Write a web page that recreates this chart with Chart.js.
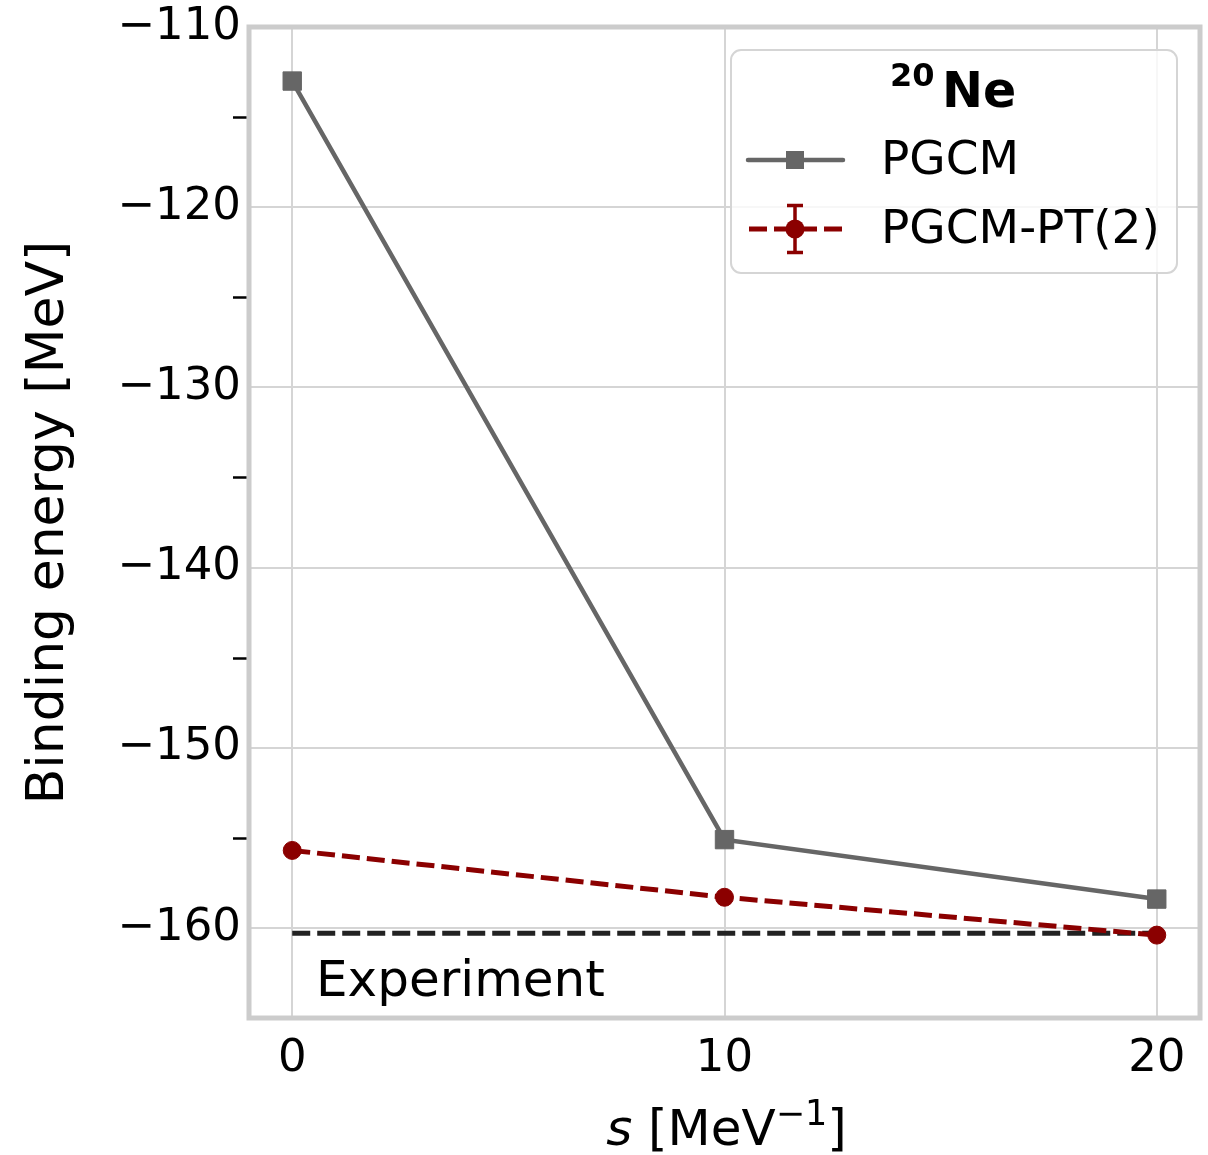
<!DOCTYPE html>
<html>
<head>
<meta charset="utf-8">
<script src="https://cdn.jsdelivr.net/npm/chart.js@4.4.1/dist/chart.umd.min.js"></script>
<style>
  html, body { margin: 0; padding: 0; background: #ffffff; }
  #chart_binding { display: block; }
</style>
</head>
<body>
<canvas id="chart_binding" width="1208" height="1155"></canvas>
<script>
// flow parameter s [MeV^-1]
var sValues = [0, 10, 20];
var pgcmEnergy = [-113.0, -155.1, -158.4];
var pgcmPt2Energy = [-155.7, -158.3, -160.4];
var experimentEnergy = -160.3;
var xTickValues = [0, 10, 20];
var yTickValues = [-160, -150, -140, -130, -120, -110];
var yMinorTicks = [-155, -145, -135, -125, -115];

var FONT = "'DejaVu Sans', sans-serif";
var GRAY = '#666666';
var DARKRED = '#8b0000';
var DASH = [18, 7];

function toPoints(xs, ys) {
    return xs.map(function(x, i) { return { x: x, y: ys[i] }; });
}

var frameAndLegend = {
    id: 'frameAndLegend',
    beforeDatasetsDraw: (chart) => {
        const ctx = chart.ctx;
        const a = chart.chartArea;
        ctx.save();
        ctx.strokeStyle = '#cccccc';
        ctx.lineWidth = 5;
        ctx.strokeRect(a.left, a.top, a.right - a.left, a.bottom - a.top);
        // minor ticks on y
        const y = chart.scales.y;
        ctx.strokeStyle = '#000000';
        ctx.lineWidth = 2.5;
        yMinorTicks.forEach(function(v) {
            const py = Math.round(y.getPixelForValue(v)) + 0.5;
            ctx.beginPath();
            ctx.moveTo(a.left - 16, py);
            ctx.lineTo(a.left - 2.5, py);
            ctx.stroke();
        });
        ctx.restore();
    },
    afterDraw: (chart) => {
        const ctx = chart.ctx;
        const xs = chart.scales.x;
        const ys = chart.scales.y;
        ctx.save();

        // "Experiment" label
        ctx.fillStyle = '#000000';
        ctx.font = '50px ' + FONT;
        ctx.textBaseline = 'alphabetic';
        ctx.textAlign = 'left';
        ctx.fillText('Experiment', xs.getPixelForValue(0.55), ys.getPixelForValue(-163.8));

        // x axis title: s [MeV^-1]
        const parts = [
            { t: 's', f: 'italic 50px ' + FONT, dy: 0 },
            { t: ' [MeV', f: '50px ' + FONT, dy: 0 },
            { t: '\u22121', f: '35px ' + FONT, dy: -20 },
            { t: ']', f: '50px ' + FONT, dy: 0 }
        ];
        let total = 0;
        parts.forEach(function(p) { ctx.font = p.f; p.w = ctx.measureText(p.t).width; total += p.w; });
        let tx = (xs.left + xs.right) / 2 - total / 2 + 2, ty = 1145;
        parts.forEach(function(p) { ctx.font = p.f; ctx.fillText(p.t, tx, ty + p.dy); tx += p.w; });

        // legend box
        const bx = 731, by = 50, bw = 446, bh = 223, r = 10;
        ctx.beginPath();
        ctx.moveTo(bx + r, by);
        ctx.arcTo(bx + bw, by, bx + bw, by + bh, r);
        ctx.arcTo(bx + bw, by + bh, bx, by + bh, r);
        ctx.arcTo(bx, by + bh, bx, by, r);
        ctx.arcTo(bx, by, bx + bw, by, r);
        ctx.closePath();
        ctx.fillStyle = 'rgba(255,255,255,0.8)';
        ctx.fill();
        ctx.strokeStyle = '#d5d5d5';
        ctx.lineWidth = 2;
        ctx.stroke();

        // legend title 20Ne
        ctx.fillStyle = '#000000';
        ctx.font = 'bold 32px ' + FONT;
        ctx.fillText('20', 890, 86);
        ctx.font = 'bold 49px ' + FONT;
        ctx.fillText('Ne', 942, 107);

        // PGCM entry
        ctx.strokeStyle = GRAY;
        ctx.lineWidth = 4.5;
        ctx.lineCap = 'round';
        ctx.beginPath();
        ctx.moveTo(748, 160);
        ctx.lineTo(843, 160);
        ctx.stroke();
        ctx.fillStyle = GRAY;
        ctx.fillRect(786, 151, 18, 18);

        // PGCM-PT(2) entry
        ctx.strokeStyle = DARKRED;
        ctx.lineCap = 'butt';
        ctx.lineWidth = 5;
        ctx.setLineDash(DASH);
        ctx.beginPath();
        ctx.moveTo(749, 229);
        ctx.lineTo(843, 229);
        ctx.stroke();
        ctx.setLineDash([]);
        ctx.lineWidth = 3.5;
        ctx.beginPath();
        ctx.moveTo(795, 205); ctx.lineTo(795, 253);
        ctx.moveTo(787, 205.5); ctx.lineTo(803, 205.5);
        ctx.moveTo(787, 252.5); ctx.lineTo(803, 252.5);
        ctx.stroke();
        ctx.fillStyle = DARKRED;
        ctx.beginPath();
        ctx.arc(795, 229, 9.5, 0, Math.PI * 2);
        ctx.fill();

        ctx.fillStyle = '#000000';
        ctx.font = '47px ' + FONT;
        ctx.textBaseline = 'middle';
        ctx.fillText('PGCM', 881, 162);
        ctx.fillText('PGCM-PT(2)', 881, 231);
        ctx.restore();
    }
};

Chart.defaults.font.family = FONT;
Chart.defaults.color = '#000000';

var chart_binding = new Chart(document.getElementById('chart_binding'), {
    type: 'line',
    data: {
        datasets: [
            {
                label: 'PGCM',
                data: toPoints(sValues, pgcmEnergy),
                borderColor: GRAY,
                backgroundColor: GRAY,
                borderWidth: 4.5,
                pointStyle: 'rect',
                pointRadius: 13,
                pointBorderWidth: 1,
                tension: 0
            },
            {
                label: 'PGCM-PT(2)',
                data: toPoints(sValues, pgcmPt2Energy),
                borderColor: DARKRED,
                backgroundColor: DARKRED,
                borderWidth: 5,
                borderDash: DASH,
                pointStyle: 'circle',
                pointRadius: 9,
                pointBorderWidth: 1,
                tension: 0
            },
            {
                label: 'Experiment',
                data: toPoints([sValues[0], sValues[sValues.length - 1]], [experimentEnergy, experimentEnergy]),
                borderColor: '#222222',
                borderWidth: 5,
                borderDash: DASH,
                pointRadius: 0,
                tension: 0
            }
        ]
    },
    options: {
        animation: false,
        responsive: false,
        devicePixelRatio: 1,
        layout: { autoPadding: false, padding: { top: 27, right: 8, left: 0, bottom: 0 } },
        plugins: {
            legend: { display: false },
            tooltip: { enabled: false }
        },
        scales: {
            x: {
                type: 'linear',
                min: -1,
                max: 21,
                afterBuildTicks: (scale) => { scale.ticks = xTickValues.map(v => ({ value: v })); },
                afterFit: (scale) => {
                    scale.height = 137;
                    scale.paddingLeft = 0;
                    scale.paddingRight = 0;
                },
                grid: { color: '#d5d5d5', lineWidth: 2, drawTicks: false },
                border: { display: false },
                ticks: {
                    padding: 14,
                    maxRotation: 0,
                    font: { size: 45 },
                    color: '#000000',
                    callback: (v) => String(v)
                }
            },
            y: {
                type: 'linear',
                min: -165,
                max: -110,
                afterBuildTicks: (scale) => { scale.ticks = yTickValues.map(v => ({ value: v })); },
                afterFit: (scale) => {
                    scale.width = 249;
                    scale.paddingTop = 0;
                    scale.paddingBottom = 0;
                },
                grid: { color: '#d5d5d5', lineWidth: 2, drawTicks: false },
                border: { display: false },
                title: {
                    display: true,
                    text: 'Binding energy [MeV]',
                    font: { size: 52 },
                    color: '#000000',
                    padding: { top: 18, bottom: 0 }
                },
                ticks: {
                    padding: 8,
                    font: { size: 45 },
                    color: '#000000',
                    callback: (v) => '\u2212' + Math.abs(v)
                }
            }
        }
    },
    plugins: [frameAndLegend]
});
</script>
</body>
</html>
